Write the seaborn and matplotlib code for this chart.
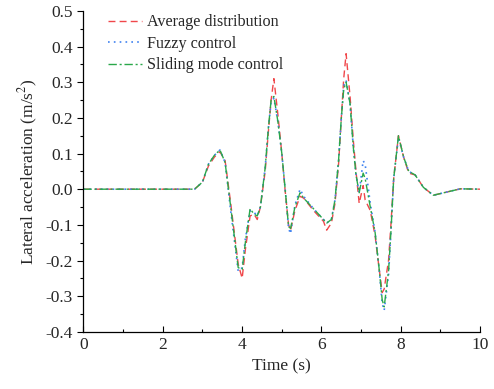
import numpy as np
import pandas as pd
import matplotlib
matplotlib.use('Agg')
import matplotlib.pyplot as plt
import seaborn as sns
from matplotlib.ticker import MultipleLocator

# time axis (s)
time = [0, 0.5, 1, 1.5, 2, 2.5, 2.8, 3.0, 3.15, 3.3, 3.44, 3.57, 3.7, 3.8, 3.9, 4.0,
        4.08, 4.2, 4.3, 4.38, 4.46, 4.58, 4.66, 4.73, 4.8, 4.9, 5.0, 5.08, 5.17, 5.22,
        5.33, 5.46, 5.55, 5.8, 6.05, 6.13, 6.25, 6.34, 6.43, 6.5, 6.56, 6.62, 6.72, 6.8,
        6.87, 6.95, 7.05, 7.1, 7.23, 7.35, 7.45, 7.53, 7.58, 7.69, 7.75, 7.82, 7.94, 8.07,
        8.2, 8.36, 8.57, 8.82, 9.16, 9.5, 10]

average = [0, 0, 0, 0, 0, 0, 0, 0.02, 0.065, 0.09, 0.105, 0.08, -0.03, -0.12, -0.21, -0.25,
           -0.17, -0.075, -0.07, -0.085, -0.05, 0.05, 0.16, 0.25, 0.31, 0.21, 0.1, 0.0, -0.1, -0.115,
           -0.06, -0.02, -0.025, -0.06, -0.09, -0.115, -0.095, -0.04, 0.07, 0.2, 0.31, 0.38, 0.26, 0.14,
           0.05, -0.04, 0.01, -0.03, -0.06, -0.13, -0.22, -0.29, -0.28, -0.2, -0.1, 0.03, 0.15, 0.09,
           0.045, 0.04, 0.005, -0.017, -0.008, 0.001, 0]

fuzzy = [0, 0, 0, 0, 0, 0, 0, 0.02, 0.07, 0.095, 0.11, 0.075, -0.05, -0.14, -0.23, -0.22,
         -0.14, -0.06, -0.065, -0.075, -0.05, 0.06, 0.17, 0.245, 0.255, 0.19, 0.1, 0.005, -0.11, -0.125,
         -0.045, 0.0, -0.02, -0.055, -0.085, -0.095, -0.085, -0.03, 0.08, 0.2, 0.29, 0.305, 0.24, 0.12,
         0.04, -0.01, 0.08, 0.07, -0.04, -0.12, -0.22, -0.32, -0.34, -0.24, -0.12, 0.03, 0.145, 0.09,
         0.05, 0.04, 0.005, -0.017, -0.008, 0.001, 0]

sliding = [0, 0, 0, 0, 0, 0, 0, 0.02, 0.07, 0.095, 0.11, 0.075, -0.04, -0.13, -0.22, -0.225,
           -0.15, -0.055, -0.07, -0.075, -0.05, 0.06, 0.17, 0.25, 0.26, 0.19, 0.1, 0.005, -0.105, -0.11,
           -0.05, -0.01, -0.025, -0.055, -0.085, -0.095, -0.085, -0.03, 0.08, 0.2, 0.28, 0.3, 0.24, 0.12,
           0.04, -0.01, 0.045, 0.03, -0.05, -0.12, -0.22, -0.31, -0.33, -0.23, -0.12, 0.03, 0.15, 0.09,
           0.05, 0.04, 0.005, -0.017, -0.008, 0.001, 0]

sns.set_style('ticks')
plt.rcParams['font.family'] = ['Liberation Serif', 'DejaVu Serif']
plt.rcParams['mathtext.fontset'] = 'stix'

fig = plt.figure(figsize=(4.94, 3.89), dpi=100)
ax = fig.add_axes([0.169, 0.147, 0.803, 0.825])

df = pd.DataFrame({'t': time, 'avg': average, 'fuzzy': fuzzy, 'smc': sliding})

sns.lineplot(data=df, x='t', y='avg', ax=ax, color='#f0474a', linestyle=(0, (5, 3)),
             linewidth=1.0, label='Average distribution')
sns.lineplot(data=df, x='t', y='fuzzy', ax=ax, color='#3f82f0', linestyle=(0, (1, 2.5)),
             linewidth=1.2, label='Fuzzy control')
sns.lineplot(data=df, x='t', y='smc', ax=ax, color='#2aa84a', linestyle=(0, (6, 2, 1.5, 2)),
             linewidth=1.0, label='Sliding mode control')

ax.set_xlim(0, 10)
ax.set_ylim(-0.4, 0.5)
ax.xaxis.set_major_locator(MultipleLocator(2))
ax.xaxis.set_minor_locator(MultipleLocator(1))
ax.yaxis.set_major_locator(MultipleLocator(0.1))
ax.yaxis.set_minor_locator(MultipleLocator(0.05))
ax.yaxis.set_major_formatter(matplotlib.ticker.FormatStrFormatter('%.1f'))
ax.tick_params(axis='both', which='major', labelsize=12.5, length=4, width=0.8, color='black')
ax.tick_params(axis='both', which='minor', length=2.5, width=0.8, color='black')
ax.tick_params(axis='x', which='both', direction='in')
ax.tick_params(axis='y', which='both', direction='out')

sns.despine(ax=ax)
for s in ['left', 'bottom']:
    ax.spines[s].set_color('black')
    ax.spines[s].set_linewidth(0.9)

ax.set_xlabel('Time (s)', fontsize=12.5)
ax.set_ylabel('Lateral acceleration (m/s$^2$)', fontsize=12.5)

ax.legend(loc='upper left', bbox_to_anchor=(0.025, 1.035), frameon=False, fontsize=11.6,
          handlelength=2.1, handletextpad=0.35, labelspacing=0.35)

fig.savefig('out.png', dpi=100)
